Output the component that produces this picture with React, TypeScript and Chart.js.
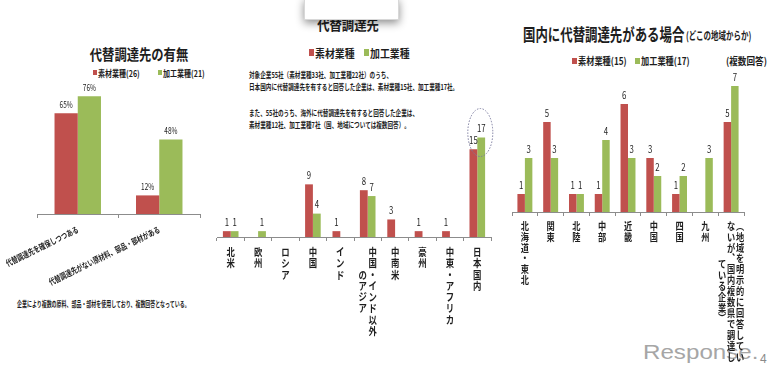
import React, { useEffect, useRef } from "react";
import { Chart, registerables } from "chart.js";

Chart.register(...registerables);

const RED = "#c0504d";
const GREEN = "#9bbb59";
const AXIS = "#8c8c8c";
const TEXT = "#1e1e1e";
const JP = '"Noto Sans CJK JP", "Noto Sans", sans-serif';

// ---- Chart 1: 代替調達先の有無 (%)
const overviewCategories = ["代替調達先を確保しつつある", "代替調達先がない原材料、部品・部材がある"];
const overviewMaterial = [65, 12];
const overviewProcessing = [76, 48];

// ---- Chart 2: 代替調達先 (社数)
const overseasCategories = [["北米"], ["欧州"], ["ロシア"], ["中国"], ["インド"], ["中国・インド以外", "のアジア"], ["中南米"], ["豪州"], ["中東・アフリカ"], ["日本国内"]];
const overseasMaterial = [1, 0, 0, 9, 1, 8, 3, 1, 1, 15];
const overseasProcessing = [1, 1, 0, 4, 0, 7, 0, 0, 0, 17];

// ---- Chart 3: 国内に代替調達先がある場合 (社数)
const domesticCategories = [["北海道・東北"], ["関東"], ["北陸"], ["中部"], ["近畿"], ["中国"], ["四国"], ["九州"], ["（地域を明示的に回答してい", "ないが、国内複数県で調達し", "ている企業）"]];
const domesticMaterial = [1, 5, 1, 1, 6, 3, 1, 0, 5];
const domesticProcessing = [3, 3, 1, 4, 3, 2, 2, 3, 7];

const VERT: Record<string, string> = { "（": "︵", "）": "︶", "、": "︑" };

function drawText(ctx: CanvasRenderingContext2D, text: string, x: number, y: number, size: number, sx: number, align: CanvasTextAlign, weight = "normal") {
  ctx.save();
  ctx.translate(x, y);
  ctx.scale(sx, 1);
  ctx.font = `${weight} ${size}px ${JP}`;
  ctx.fillStyle = TEXT;
  ctx.textAlign = align;
  ctx.textBaseline = "middle";
  ctx.fillText(text, 0, 0);
  ctx.restore();
}

function valueLabels(size: number, sx: number, offset: number, fmt: (v: number) => string) {
  return {
    id: "valueLabels",
    afterDatasetsDraw(chart: any) {
      const ctx = chart.ctx;
      chart.data.datasets.forEach((ds: any, di: number) => {
        const meta = chart.getDatasetMeta(di);
        meta.data.forEach((bar: any, i: number) => {
          const v = ds.data[i];
          if (!v) return;
          drawText(ctx, fmt(v), bar.x, bar.y - offset, size, sx, "center");
        });
      });
    },
  };
}

function verticalLabels(columns: string[][], o: { start: number; pitch: number; gap: number; size: number; sx: number; weight: string }) {
  return {
    id: "verticalLabels",
    afterDraw(chart: any) {
      const ctx = chart.ctx;
      const xs = chart.scales.x;
      const axisY = chart.chartArea.bottom;
      columns.forEach((cols, i) => {
        const cx = xs.getPixelForValue(i);
        const n = cols.length;
        const maxLen = Math.max(...cols.map((c) => [...c].length));
        cols.forEach((col, j) => {
          const chars = [...col];
          const x = cx + ((n - 1) / 2 - j) * o.gap;
          const off = ((maxLen - chars.length) / 2) * o.pitch;
          chars.forEach((ch, k) => {
            drawText(ctx, VERT[ch] || ch, x, axisY + o.start + off + k * o.pitch, o.size, o.sx, "center", o.weight);
          });
        });
      });
    },
  };
}

function rotatedLabels(labels: string[], angleDeg: number, dy: number, size: number, sx: number) {
  return {
    id: "rotatedLabels",
    afterDraw(chart: any) {
      const ctx = chart.ctx;
      const xs = chart.scales.x;
      const axisY = chart.chartArea.bottom;
      labels.forEach((lab, i) => {
        const cx = xs.getPixelForValue(i);
        ctx.save();
        ctx.translate(cx, axisY + dy);
        ctx.rotate((-angleDeg * Math.PI) / 180);
        ctx.scale(sx, 1);
        ctx.font = `bold ${size}px ${JP}`;
        ctx.fillStyle = TEXT;
        ctx.textAlign = "right";
        ctx.textBaseline = "middle";
        ctx.fillText(lab, 0, 0);
        ctx.restore();
      });
    },
  };
}

const highlightRing = {
  id: "highlightRing",
  afterDatasetsDraw(chart: any) {
    const ctx = chart.ctx;
    const last = overseasCategories.length - 1;
    const cx = chart.scales.x.getPixelForValue(last) + 3;
    const cy = chart.scales.y.getPixelForValue(overseasProcessing[last]) - 5;
    ctx.save();
    ctx.strokeStyle = "#7b7b9e";
    ctx.lineWidth = 1;
    ctx.setLineDash([1.5, 1.5]);
    ctx.beginPath();
    ctx.ellipse(cx, cy, 12.5, 24, 0, 0, Math.PI * 2);
    ctx.stroke();
    ctx.restore();
  },
};

function barConfig(labels: string[], a: number[], b: number[], max: number, padding: any, catPct: number, plugins: any[]) {
  return {
    type: "bar" as const,
    data: {
      labels,
      datasets: [
        { data: a, backgroundColor: RED, borderWidth: 0, categoryPercentage: catPct, barPercentage: 1 },
        { data: b, backgroundColor: GREEN, borderWidth: 0, categoryPercentage: catPct, barPercentage: 1 },
      ],
    },
    options: {
      animation: false as const,
      responsive: false,
      maintainAspectRatio: false,
      events: [],
      layout: { padding },
      plugins: { legend: { display: false }, title: { display: false }, tooltip: { enabled: false } },
      scales: {
        x: {
          offset: true,
          grid: { display: true, offset: true, drawOnChartArea: false, drawTicks: true, tickLength: 4, color: AXIS, lineWidth: 1 },
          border: { display: true, color: AXIS, width: 1 },
          ticks: { display: false },
          afterFit: (s: any) => {
            s.height = 4;
          },
        },
        y: { display: false, min: 0, max },
      },
    },
    plugins,
  };
}

function T(props: { x: number; y: number; s: number; sx?: number; a?: number; b?: boolean; c?: string; f?: string; children: React.ReactNode }) {
  const { x, y, s, sx = 1, a = 0, b = false, c = TEXT, f = JP, children } = props;
  return (
    <div
      style={{
        position: "absolute",
        left: x,
        top: y,
        fontSize: s,
        fontFamily: f,
        fontWeight: b ? 700 : 400,
        color: c,
        whiteSpace: "nowrap",
        lineHeight: 1,
        transformOrigin: "0 50%",
        transform: `translate(${-a * sx * 100}%, -50%) scaleX(${sx})`,
      }}
    >
      {children}
    </div>
  );
}

function Sq(props: { x: number; y: number; w: number; h: number; c: string }) {
  return <div style={{ position: "absolute", left: props.x, top: props.y, width: props.w, height: props.h, background: props.c }} />;
}

const canvasStyle: React.CSSProperties = { position: "absolute", left: 0, top: 0, width: 770, height: 373 };

export default function App() {
  const c1 = useRef<HTMLCanvasElement>(null);
  const c2 = useRef<HTMLCanvasElement>(null);
  const c3 = useRef<HTMLCanvasElement>(null);

  useEffect(() => {
    const charts: Chart[] = [];
    if (c1.current) {
      charts.push(
        new Chart(
          c1.current,
          barConfig(overviewCategories, overviewMaterial, overviewProcessing, 80, { left: 37, right: 570, top: 90, bottom: 155 }, 0.57, [
            valueLabels(9.5, 0.68, 9, (v) => `${v}%`),
            rotatedLabels(overviewCategories, 26, 15, 8.5, 0.72),
          ]) as any
        )
      );
    }
    if (c2.current) {
      charts.push(
        new Chart(
          c2.current,
          barConfig(overseasCategories.map((c) => c.join("")), overseasMaterial, overseasProcessing, 20, { left: 217, right: 279, top: 120, bottom: 132 }, 0.57, [
            valueLabels(10, 0.78, 9, (v) => `${v}`),
            verticalLabels(overseasCategories, { start: 15, pitch: 11.3, gap: 10, size: 10.5, sx: 0.8, weight: "bold" }),
            highlightRing,
          ]) as any
        )
      );
    }
    if (c3.current) {
      charts.push(
        new Chart(
          c3.current,
          barConfig(domesticCategories.map((c) => c.join("")), domesticMaterial, domesticProcessing, 8, { left: 512, right: 26, top: 68, bottom: 157 }, 0.58, [
            valueLabels(10, 0.78, 9, (v) => `${v}`),
            verticalLabels(domesticCategories, { start: 14, pitch: 10.9, gap: 9, size: 10, sx: 0.82, weight: "bold" }),
          ]) as any
        )
      );
    }
    return () => charts.forEach((c) => c.destroy());
  }, []);

  return (
    <div style={{ position: "fixed", left: 0, top: 0, width: 770, height: 373, background: "#fff", overflow: "hidden" }}>
      {/* Response logo (behind charts) */}
      <T x={643} y={351} s={21} sx={1.15} f='"Liberation Sans", Arial, sans-serif' c="#a6a6a6">Response.</T>
      <T x={760} y={359} s={12} f='"Liberation Sans", Arial, sans-serif' c="#8a8a8a">4</T>

      {/* Chart 1 texts */}
      <T x={139} y={53} s={15} sx={0.82} a={0.5} b>代替調達先の有無</T>
      <Sq x={93} y={70} w={4} h={5} c={RED} />
      <T x={98} y={72.5} s={9} sx={0.78} b>素材業種(26)</T>
      <Sq x={158} y={70} w={4} h={5} c={GREEN} />
      <T x={163} y={72.5} s={9} sx={0.78} b>加工業種(21)</T>
      <T x={17} y={304} s={8} sx={0.62} b>企業により複数の原料、部品・部材を使用しており、複数回答となっている。</T>

      {/* Chart 2 texts */}
      <T x={348} y={23} s={15} sx={0.82} a={0.5} b>代替調達先</T>
      <Sq x={309} y={49} w={5} h={7} c={RED} />
      <T x={315} y={52.5} s={11} sx={0.9} b>素材業種</T>
      <Sq x={364} y={49} w={5} h={7} c={GREEN} />
      <T x={370} y={52.5} s={11} sx={0.9} b>加工業種</T>
      <T x={249} y={75} s={8} sx={0.7} b>対象企業55社（素材業種33社、加工業種22社）のうち、</T>
      <T x={249} y={87} s={8} sx={0.7} b>日本国内に代替調達先を有すると回答した企業は、素材業種15社、加工業種17社。</T>
      <T x={249} y={113} s={8} sx={0.7} b>また、55社のうち、海外に代替調達先を有すると回答した企業は、</T>
      <T x={249} y={125} s={8} sx={0.7} b>素材業種12社、加工業種7社（国、地域については複数回答）。</T>

      {/* Chart 3 texts */}
      <T x={523} y={33} s={17} sx={0.73} b>国内に代替調達先がある場合</T>
      <T x={686} y={35} s={11} sx={0.68} b>(どこの地域からか)</T>
      <Sq x={572} y={58} w={5} h={6} c={RED} />
      <T x={578} y={61} s={10} sx={0.82} b>素材業種(15)</T>
      <Sq x={635} y={58} w={5} h={6} c={GREEN} />
      <T x={641} y={61} s={10} sx={0.82} b>加工業種(17)</T>
      <T x={726} y={61} s={10} sx={0.86} b>(複数回答)</T>

      <canvas ref={c1} width={770} height={373} style={canvasStyle} />
      <canvas ref={c2} width={770} height={373} style={canvasStyle} />
      <canvas ref={c3} width={770} height={373} style={canvasStyle} />

      {/* popup window overlapping the middle title */}
      <div
        style={{
          position: "absolute",
          left: 304,
          top: -2,
          width: 93,
          height: 20,
          background: "#fff",
          border: "1px solid #d8d8d8",
          boxShadow: "0 3px 9px rgba(0,0,0,0.45)",
        }}
      />
    </div>
  );
}
